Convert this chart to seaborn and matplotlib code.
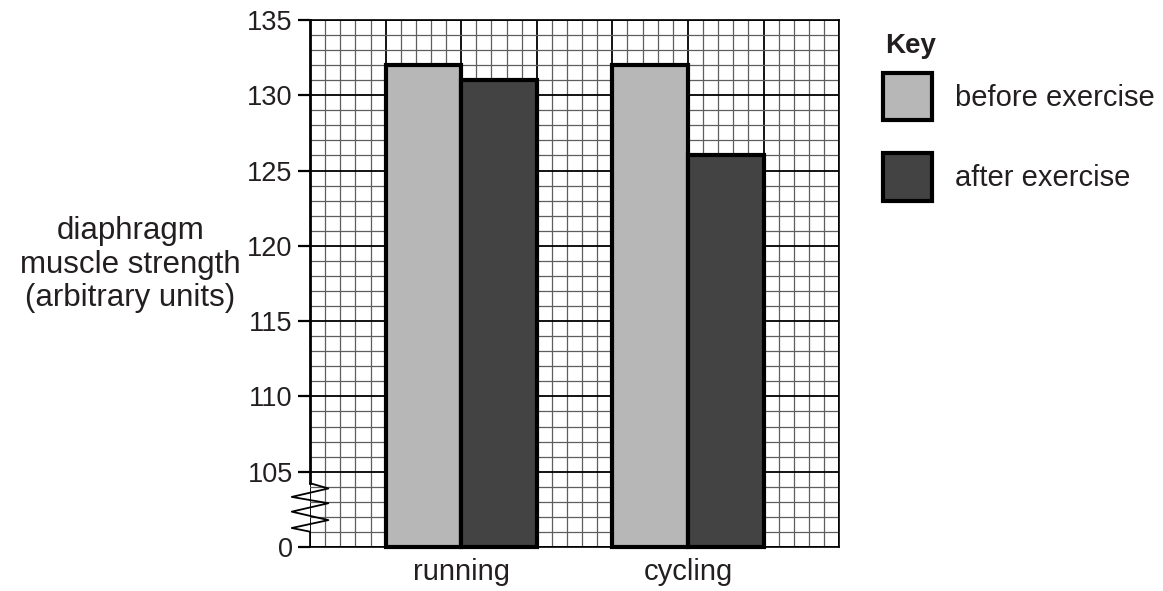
import numpy as np
import pandas as pd
import matplotlib
matplotlib.use('Agg')
import matplotlib.pyplot as plt
import seaborn as sns

# values
activities = ['running', 'cycling']
conditions = ['before exercise', 'after exercise']
before_exercise = [132, 132]
after_exercise = [131, 126]
y_ticks = [100, 105, 110, 115, 120, 125, 130, 135]
y_tick_labels = ['0', '105', '110', '115', '120', '125', '130', '135']
axis_break = 100  # the axis jumps from 0 to 105, so bars start here

df = pd.DataFrame({
    'activity': activities * 2,
    'condition': [conditions[0]] * 2 + [conditions[1]] * 2,
    'strength': before_exercise + after_exercise,
})
df['height'] = df['strength'] - axis_break

sns.set_theme(style='white')
plt.rcParams['font.family'] = ['Liberation Sans', 'DejaVu Sans']
text_col = '#231f20'

fig = plt.figure(figsize=(11.63, 5.91), dpi=100)
ax = fig.add_axes([0.2666, 0.0745, 0.4549, 0.8917])

sns.barplot(data=df, x='activity', y='height', hue='condition',
            order=activities, hue_order=conditions,
            palette=['#b7b7b7', '#434343'], saturation=1, width=2/3,
            errorbar=None, legend=False, bottom=axis_break,
            edgecolor='black', linewidth=3, clip_on=False, zorder=3, ax=ax)

# graph paper grid: 35 x 35 small squares, every 5th line darker
xlo, xhi = -2/3, 5/3
ax.set_xlim(xlo, xhi)
ax.set_ylim(100, 135)
for i, xv in enumerate(np.linspace(xlo, xhi, 36)):
    major = i % 5 == 0
    ax.axvline(xv, color='black' if major else '#5e5e5e',
               lw=1.3 if major else 0.9, zorder=0)
for yv in range(100, 136):
    major = yv % 5 == 0
    ax.axhline(yv, color='black' if major else '#5e5e5e',
               lw=1.3 if major else 0.9, zorder=0)

ax.set_yticks(y_ticks)
ax.set_yticklabels(y_tick_labels)
ax.tick_params(axis='y', left=True, length=9, width=1.6, color='black',
               pad=3.5, labelsize=19.5, labelcolor=text_col)
ax.tick_params(axis='x', bottom=False, pad=2, labelsize=21, labelcolor=text_col)
ax.set_xlabel('')

for side in ['top', 'right', 'bottom']:
    ax.spines[side].set_color('black')
    ax.spines[side].set_linewidth(1.2)
ax.spines['left'].set_color('black')
ax.spines['left'].set_linewidth(2)
ax.spines['left'].set_bounds(104.25, 135)

# zigzag axis break
zx = [0, 0.0346, -0.0346, 0.0346, -0.0346, 0.0346, -0.0346, 0, 0]
zy = [0.121, 0.111, 0.095, 0.083, 0.067, 0.051, 0.036, 0.029, 0]
ax.plot(zx, zy, transform=ax.transAxes, color='black', lw=1.3,
        clip_on=False, zorder=5)

ax.set_ylabel('diaphragm\nmuscle strength\n(arbitrary units)', rotation=0,
              ha='center', va='center', fontsize=22.5, color=text_col,
              linespacing=1.16)
ax.yaxis.set_label_coords(-0.340, 0.536)

# key
fig.text(885 / 1163, 1 - 46 / 591, 'Key', fontsize=20, fontweight='bold',
         color=text_col, ha='left', va='center')
leg = ax.legend(ax.containers, conditions, loc='upper left',
                bbox_to_anchor=(883 / 1163, 1 - 73 / 591),
                bbox_transform=fig.transFigure, frameon=False,
                borderpad=0, borderaxespad=0, handlelength=1.69,
                handleheight=2.12, labelspacing=1.13, handletextpad=0.79,
                fontsize=21)
for t in leg.get_texts():
    t.set_color(text_col)

fig.savefig('out.png', dpi=100)
